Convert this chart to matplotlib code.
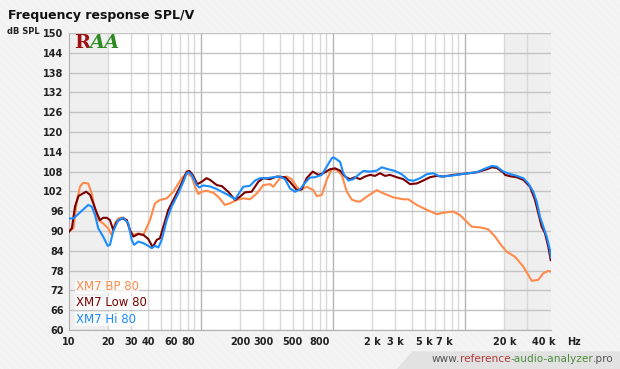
import numpy as np
import matplotlib
matplotlib.use("Agg")
import matplotlib.pyplot as plt
from matplotlib.patches import Rectangle, Polygon
from matplotlib.offsetbox import TextArea, HPacker, AnnotationBbox

plt.rcParams['font.family'] = ['DejaVu Sans']
plt.rcParams['hatch.linewidth'] = 0.5

# --- data (Hz, dB SPL) ---
hi_freq = [10.1, 10.9, 14.1, 15.0, 15.9, 16.8, 18.3, 19.8, 20.6, 21.8, 23.8, 26.0, 28.4, 30.1,
           31.4, 33.8, 36.9, 40.2, 42.7, 45.2, 47.9, 50.8, 55.5, 60.5, 67.9, 74.1, 78.6, 80.8,
           85.8, 93.6, 97.9, 105, 118, 133, 145, 162, 183, 193, 211, 237, 259, 282, 317, 356,
           400, 437, 476, 520, 567, 619, 675, 737, 829, 904, 986, 1014, 1076, 1106, 1140, 1207,
           1317, 1438, 1569, 1712, 1924, 2162, 2359, 2647, 2975, 3344, 3752, 4094, 4603, 5172,
           5802, 6522, 7767, 9793, 12374, 13884, 16075, 17536, 19675, 22114, 24858, 27891,
           30430, 33205, 35237, 37325, 39537, 41955, 44435, 45200]
hi_db = [93.8, 93.8, 97.9, 97.4, 94.8, 90.8, 88.3, 85.5, 85.8, 89.8, 93.3, 94.0, 92.3, 87.3,
         85.8, 86.8, 86.3, 85.5, 84.8, 85.5, 85.0, 87.3, 93.3, 97.4, 101.4, 104.9, 107.5, 107.8,
         107.0, 103.9, 103.2, 103.8, 103.5, 102.7, 101.9, 100.9, 99.6, 101.1, 103.4, 103.7,
         105.3, 106.0, 106.0, 106.3, 106.5, 105.7, 102.9, 101.9, 102.6, 104.6, 106.2, 106.3,
         107.0, 109.5, 112.0, 112.3, 111.7, 111.3, 111.0, 107.5, 105.3, 105.7, 107.0, 108.2,
         108.0, 108.3, 109.3, 108.7, 108.2, 107.2, 105.5, 105.2, 106.0, 107.2, 107.5, 106.5,
         106.7, 107.3, 107.8, 108.7, 109.7, 109.5, 108.0, 107.3, 106.7, 106.0, 104.4, 101.9,
         98.9, 94.3, 91.3, 88.3, 84.2, 82.0]

low_freq = [10.1, 10.6, 11.2, 11.9, 12.9, 13.6, 14.6, 15.4, 16.4, 17.3, 18.3, 19.5, 20.6, 21.8,
            23.2, 25.3, 27.6, 29.2, 31.0, 33.8, 36.9, 40.2, 43.4, 46.6, 49.3, 52.3, 57.0, 64.1,
            72.0, 78.6, 82.3, 87.3, 94.6, 102, 111, 118, 133, 145, 162, 183, 199, 217, 244, 274,
            299, 336, 378, 437, 476, 536, 584, 637, 708, 781, 852, 957, 1044, 1140, 1243, 1357,
            1481, 1616, 1763, 1924, 2099, 2290, 2499, 2727, 3065, 3439, 3865, 4344, 4875, 5477,
            6157, 6909, 8228, 9793, 12374, 14734, 16075, 17536, 19675, 20270, 22114, 24858,
            27891, 31340, 34200, 36230, 38440, 40720, 43130, 44980]
low_db = [89.8, 90.8, 97.4, 100.6, 101.4, 101.9, 100.9, 98.4, 95.4, 93.3, 94.0, 94.0, 93.3,
          90.3, 92.8, 93.8, 93.3, 90.3, 88.3, 89.1, 88.8, 87.6, 85.1, 87.3, 87.8, 91.3, 96.4,
          100.4, 104.5, 108.0, 108.2, 107.0, 104.2, 104.9, 106.0, 105.5, 103.9, 103.6, 101.9,
          99.4, 100.4, 101.7, 101.9, 104.9, 106.0, 105.7, 106.5, 106.3, 104.9, 102.4, 102.6,
          106.0, 108.0, 107.0, 107.5, 108.7, 109.0, 108.3, 106.5, 105.7, 106.3, 105.7, 106.5,
          107.0, 106.7, 107.5, 106.7, 107.0, 106.3, 105.7, 104.2, 104.4, 105.3, 106.3, 106.7,
          106.5, 107.0, 107.3, 107.8, 108.7, 109.3, 109.1, 107.7, 107.0, 106.6, 106.3, 105.5,
          103.4, 99.4, 95.4, 91.3, 89.3, 85.2, 81.2]

bp_freq = [10.3, 10.9, 11.5, 12.2, 12.9, 14.1, 15.0, 15.9, 16.8, 18.3, 20.0, 21.2, 22.5, 23.8,
           26.0, 27.6, 29.2, 31.0, 33.8, 36.9, 41.4, 45.2, 49.3, 55.5, 62.2, 72.0, 78.6, 85.8,
           90.9, 96.2, 102, 111, 125, 136, 153, 167, 188, 211, 237, 267, 299, 336, 356, 400,
           450, 491, 536, 567, 637, 715, 759, 829, 904, 986, 1076, 1174, 1281, 1398, 1525, 1616,
           1816, 2162, 2426, 2888, 3439, 3752, 4344, 5172, 6157, 7116, 8228, 9246, 10392, 11338,
           13105, 15150, 17025, 19133, 20883, 24131, 27891, 32300, 36230, 39537, 43130, 44980]
bp_db = [90.3, 90.8, 98.4, 103.4, 104.6, 104.4, 101.4, 96.4, 93.3, 92.3, 90.8, 88.8, 92.3,
         93.8, 94.1, 93.3, 90.3, 88.8, 89.3, 88.8, 93.3, 98.4, 99.4, 99.9, 101.9, 106.0, 107.5,
         106.5, 103.4, 101.2, 101.9, 102.2, 101.6, 100.4, 97.9, 98.4, 99.4, 99.9, 99.6, 101.4,
         103.9, 104.2, 103.4, 106.0, 106.5, 105.7, 103.4, 102.4, 103.4, 102.4, 100.6, 100.9,
         105.5, 108.7, 108.5, 107.0, 102.0, 99.5, 99.0, 98.9, 100.4, 102.4, 101.4, 100.2, 99.6,
         99.6, 97.9, 96.4, 95.1, 95.6, 95.9, 94.8, 92.8, 91.3, 91.1, 90.5, 88.3, 85.5, 83.7,
         82.2, 79.2, 74.9, 75.2, 77.2, 77.9, 77.7]

series = [("XM7 BP 80", bp_freq, bp_db, "#ff8a4a"),
          ("XM7 Low 80", low_freq, low_db, "#7a0000"),
          ("XM7 Hi 80", hi_freq, hi_db, "#1a8cff")]

x_ticks = [10, 20, 30, 40, 60, 80, 200, 300, 500, 800, 2000, 3000, 5000, 7000, 20000, 40000]
x_labels = ["10", "20", "30", "40", "60", "80", "200", "300", "500", "800",
            "2 k", "3 k", "5 k", "7 k", "20 k", "40 k"]
y_ticks = list(range(60, 151, 6))

fig = plt.figure(figsize=(6.2, 3.69), dpi=100)
fig.patch.set_facecolor("#f2f2f2")
bg = Rectangle((0, 0), 1, 1, transform=fig.transFigure, facecolor="#f2f2f2",
               edgecolor="#f8f8f8", hatch="\\\\\\\\", lw=0, zorder=-10)
fig.patches.append(bg)

ax = fig.add_axes([0.1105, 0.1057, 0.7782, 0.8049])
ax.set_xscale("log")
ax.set_xlim(10, 45200)
ax.set_ylim(60, 150)
ax.set_facecolor("white")
ax.axvspan(10, 20, color="#efefef", zorder=0, lw=0)
ax.axvspan(20000, 45200, color="#efefef", zorder=0, lw=0)

# grid
minor = [m * 10 ** e for e in range(1, 5) for m in range(2, 10) if m * 10 ** e < 40000]
for f in minor:
    ax.axvline(f, color="#d8d8d8", lw=1, zorder=1)
for f in [100, 1000, 10000]:
    ax.axvline(f, color="#b4b4b4", lw=1, zorder=1)
for y in y_ticks:
    ax.axhline(y, color="#c4c4c4", lw=1, zorder=1)

for name, fr, db, col in series:
    ax.plot(fr, db, color=col, lw=1.5, zorder=3, solid_joinstyle="round")

ax.set_xticks(x_ticks)
ax.set_xticklabels(x_labels)
ax.xaxis.set_minor_locator(matplotlib.ticker.NullLocator())
ax.set_yticks(y_ticks)
ax.tick_params(length=0, labelsize=7, colors="#222222")
ax.tick_params(axis="x", pad=5)
ax.tick_params(axis="y", pad=3.5)
for lab in ax.get_xticklabels() + ax.get_yticklabels():
    lab.set_fontweight("bold")
for s in ["top", "right"]:
    ax.spines[s].set_visible(False)
ax.spines["left"].set_color("#b0b0b0")
ax.spines["bottom"].set_color("#b0b0b0")

ax.text(1.048, -0.024, "Hz", transform=ax.transAxes, fontsize=7, fontweight="bold",
        color="#222222", ha="center", va="top")
fig.text(0.011, 0.915, "dB SPL", fontsize=6, fontweight="bold", color="#222222",
         ha="left", va="center")
fig.text(0.013, 0.958, "Frequency response SPL/V", fontsize=9, fontweight="bold",
         color="#111111", ha="left", va="center")

# legend as coloured text
for i, (name, fr, db, col) in enumerate(series):
    ax.text(0.015, 0.145 - i * 0.054, name, transform=ax.transAxes, fontsize=8.5,
            color=col, va="center", ha="left", zorder=5,
            bbox=dict(facecolor="white", edgecolor="none", alpha=0.7, pad=0.5))

# logo
logo = HPacker(children=[
    TextArea("R", textprops=dict(color="#a01010", fontsize=14, fontweight="bold", family="DejaVu Serif")),
    TextArea("AA", textprops=dict(color="#2e8b22", fontsize=14, fontweight="bold", style="italic",
                                  family="DejaVu Serif"))],
    align="baseline", pad=0, sep=-1)
ax.add_artist(AnnotationBbox(logo, (0.012, 0.995), xycoords="axes fraction", box_alignment=(0, 1),
                             frameon=False, zorder=6))

# watermark
fig.patches.append(Polygon([[0.64, 0.0], [0.665, 0.048], [1.0, 0.048], [1.0, 0.0]],
                           closed=True, transform=fig.transFigure, facecolor="#e2e2e2",
                           edgecolor="none", zorder=-5))
parts = [("www.", "#555555"), ("reference", "#b03a3a"), ("-audio-analyzer", "#4c8c3c"),
         (".pro", "#555555")]
wm = HPacker(children=[TextArea(t, textprops=dict(color=c, fontsize=7.6)) for t, c in parts],
             align="baseline", pad=0, sep=0)
fig.add_artist(AnnotationBbox(wm, (0.99, 0.026), xycoords="figure fraction", box_alignment=(1, 0.5),
                              frameon=False))

fig.savefig("out.png", dpi=100, facecolor=fig.get_facecolor())
